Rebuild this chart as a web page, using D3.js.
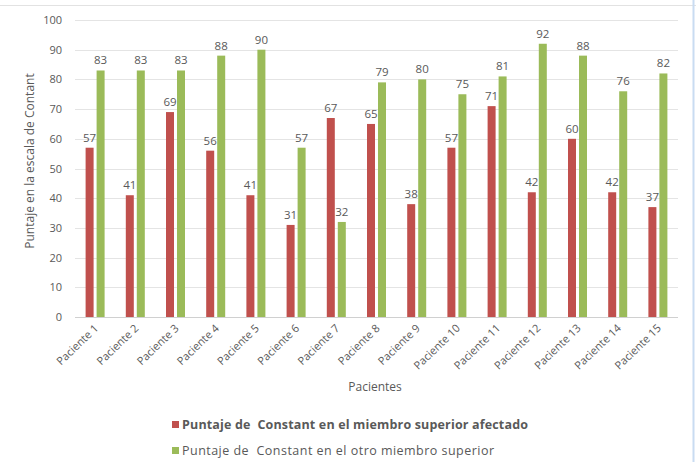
<!DOCTYPE html>
<html><head><meta charset="utf-8">
<script src="https://cdn.jsdelivr.net/npm/d3@7"></script>
<style>
body{margin:0;background:#fff;}
text{font-family:"Open Sans","Liberation Sans",sans-serif;fill:#595959;white-space:pre;}
</style></head>
<body>
<svg id="c" width="696" height="462"></svg>
<script>
const categories = ["Paciente 1","Paciente 2","Paciente 3","Paciente 4","Paciente 5","Paciente 6","Paciente 7","Paciente 8","Paciente 9","Paciente 10","Paciente 11","Paciente 12","Paciente 13","Paciente 14","Paciente 15"];
const afectado = [57,41,69,56,41,31,67,65,38,57,71,42,60,42,37];
const otro = [83,83,83,88,90,57,32,79,80,75,81,92,88,76,82];
const yTicks = [0,10,20,30,40,50,60,70,80,90,100];
const seriesNames = ["Puntaje de  Constant en el miembro superior afectado","Puntaje de  Constant en el otro miembro superior"];
const colors = ["#C0504D","#9BBB59"];

const svg = d3.select("#c");
// frame
svg.append("line").attr("x1",0).attr("x2",696).attr("y1",5.5).attr("y2",5.5).attr("stroke","#e2e2e2");
svg.append("line").attr("x1",693.5).attr("x2",693.5).attr("y1",0).attr("y2",462).attr("stroke","#c9dcf2").attr("stroke-width",2);

const m = {l:75, r:678, t:20, b:317};
const x = d3.scaleBand().domain(categories).range([m.l, m.r]);
const y = d3.scaleLinear().domain([0,100]).range([m.b, m.t]);

const g = svg.append("g");
// gridlines
g.selectAll("line.grid").data(yTicks).join("line")
  .attr("x1",m.l).attr("x2",m.r)
  .attr("y1",d=>Math.round(y(d))+0.5).attr("y2",d=>Math.round(y(d))+0.5)
  .attr("stroke",d=>d===0?"#d0d0d0":"#e4e4e4");
// y labels
g.selectAll("text.yt").data(yTicks).join("text")
  .attr("x",62).attr("y",d=>y(d)+4)
  .attr("text-anchor","end").attr("font-size",11).text(d=>d);

const bw = 8, gap = 3;
const data = [afectado, otro];
data.forEach((vals, si) => {
  const off = si===0 ? -(bw+gap/2) : gap/2;
  g.selectAll("rect.s"+si).data(vals).join("rect")
    .attr("x",(d,i)=>x(categories[i])+x.bandwidth()/2+off)
    .attr("y",d=>y(d)).attr("width",bw).attr("height",d=>y(0)-y(d))
    .attr("fill",colors[si]);
  g.selectAll("text.l"+si).data(vals).join("text")
    .attr("x",(d,i)=>x(categories[i])+x.bandwidth()/2+off+bw/2)
    .attr("y",d=>y(d)-6)
    .attr("text-anchor","middle").attr("font-size",11.5).text(d=>d);
});

// x tick labels
g.selectAll("text.xt").data(categories).join("text")
  .attr("transform",d=>`translate(${x(d)+x.bandwidth()/2+4},${329}) rotate(-44)`)
  .attr("text-anchor","end").attr("font-size",11).text(d=>d);

// axis titles
svg.append("text").attr("x",375).attr("y",391).attr("text-anchor","middle").attr("font-size",12).text("Pacientes");
svg.append("text").attr("transform","translate(34,161) rotate(-90)").attr("text-anchor","middle").attr("font-size",12).text("Puntaje en la escala de Contant");

// legend
const legW = [346, 312];
const leg = svg.append("g");
seriesNames.forEach((n,i)=>{
  const yy = 429 + i*26;
  leg.append("rect").attr("x",172).attr("y",yy-8).attr("width",7).attr("height",7).attr("fill",colors[i]);
  leg.append("text").attr("x",182).attr("y",yy).attr("font-size",12.5)
    .attr("textLength",legW[i]).attr("lengthAdjust","spacing")
    .attr("font-weight",i===0?"bold":"normal").text(n);
});
</script>
</body></html>
